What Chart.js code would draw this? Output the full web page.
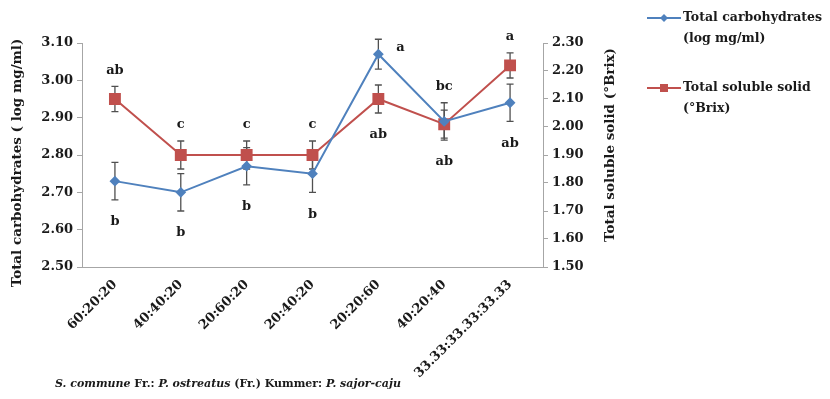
<!DOCTYPE html>
<html>
<head>
<meta charset="utf-8">
<script src="https://cdn.jsdelivr.net/npm/chart.js@4.4.0/dist/chart.umd.min.js"></script>
<style>
  html, body { margin: 0; padding: 0; background: #fff; }
  #wrap { position: relative; width: 830px; height: 399px; }
  #caption { position: absolute; left: 55px; top: 377px; font: bold 11px 'DejaVu Serif', serif; color: #1a1a1a; white-space: nowrap; }
  #caption i { font-style: italic; }
</style>
</head>
<body>
<div id="wrap">
  <canvas id="chart" width="830" height="399"></canvas>
  <div id="caption"><i>S. commune</i> Fr.: <i>P. ostreatus</i> (Fr.) Kummer: <i>P. sajor-caju</i></div>
</div>
<script>
// data
const categories = ['60:20:20', '40:40:20', '20:60:20', '20:40:20', '20:20:60', '40:20:40', '33.33:33.33:33.33'];
const carbValues = [2.73, 2.70, 2.77, 2.75, 3.07, 2.89, 2.94];
const carbErrors = [0.05, 0.05, 0.05, 0.05, 0.04, 0.05, 0.05];
const tssValues = [2.10, 1.90, 1.90, 1.90, 2.10, 2.01, 2.22];
const tssErrors = [0.045, 0.05, 0.05, 0.05, 0.05, 0.05, 0.045];
const upperLetters = ['ab', 'c', 'c', 'c', 'a', 'bc', 'a'];
const lowerLetters = ['b', 'b', 'b', 'b', 'ab', 'ab', 'ab'];
const leftTicks = [2.50, 2.60, 2.70, 2.80, 2.90, 3.00, 3.10];
const rightTicks = [1.50, 1.60, 1.70, 1.80, 1.90, 2.00, 2.10, 2.20, 2.30];

const BLUE = '#4F81BD';
const RED = '#C0504D';
const TEXT = '#1a1a1a';
const FONT = "'DejaVu Serif', serif";

// error bars, drawn under the markers
const errorBars = {
  id: 'errorBars',
  beforeDatasetsDraw(chart) {
    const ctx = chart.ctx;
    chart.data.datasets.forEach((ds, di) => {
      const meta = chart.getDatasetMeta(di);
      const yScale = chart.scales[ds.yAxisID];
      ctx.save();
      ctx.strokeStyle = '#505050';
      ctx.lineWidth = 1.3;
      meta.data.forEach((pt, i) => {
        const top = yScale.getPixelForValue(ds.data[i] + ds.errors[i]);
        const bot = yScale.getPixelForValue(ds.data[i] - ds.errors[i]);
        ctx.beginPath();
        ctx.moveTo(pt.x, top); ctx.lineTo(pt.x, bot);
        ctx.moveTo(pt.x - 3.5, top); ctx.lineTo(pt.x + 3.5, top);
        ctx.moveTo(pt.x - 3.5, bot); ctx.lineTo(pt.x + 3.5, bot);
        ctx.stroke();
      });
      ctx.restore();
    });
  }
};

// significance letters, above highest bar end / below lowest bar end;
// a letter that would sit far above the plot goes beside the bar instead
const letters = {
  id: 'letters',
  afterDraw(chart) {
    const ctx = chart.ctx;
    const area = chart.chartArea;
    const x = chart.scales.x, y = chart.scales.y, y1 = chart.scales.y1;
    ctx.save();
    ctx.font = 'bold 13px ' + FONT;
    ctx.fillStyle = TEXT;
    ctx.textAlign = 'center';
    ctx.textBaseline = 'middle';
    categories.forEach((c, i) => {
      const px = x.getPixelForValue(i);
      const tops = [y.getPixelForValue(carbValues[i] + carbErrors[i]), y1.getPixelForValue(tssValues[i] + tssErrors[i])];
      const bots = [y.getPixelForValue(carbValues[i] - carbErrors[i]), y1.getPixelForValue(tssValues[i] - tssErrors[i])];
      const top = Math.min(...tops);
      let ux = px, uy = top - 16;
      if (uy < area.top - 12) { ux = px + 22; uy = top + 8; }
      ctx.fillText(upperLetters[i], ux, uy);
      ctx.fillText(lowerLetters[i], px, Math.max(...bots) + 22);
    });
    ctx.restore();
  }
};

// axis titles (both read bottom-to-top) and the legend on the right
const extras = {
  id: 'extras',
  afterDraw(chart) {
    const ctx = chart.ctx;
    ctx.save();
    ctx.fillStyle = TEXT;
    ctx.font = 'bold 13.5px ' + FONT;
    ctx.textAlign = 'center';
    ctx.textBaseline = 'middle';
    [['Total carbohydrates ( log mg/ml)', 17, 163], ['Total soluble solid (°Brix)', 610, 145]].forEach(([t, tx, ty]) => {
      ctx.save();
      ctx.translate(tx, ty);
      ctx.rotate(-Math.PI / 2);
      ctx.fillText(t, 0, 0);
      ctx.restore();
    });

    const items = [
      { color: BLUE, style: 'diamond', lines: ['Total carbohydrates', '(log mg/ml)'], y: 18 },
      { color: RED, style: 'square', lines: ['Total soluble solid', '(°Brix)'], y: 88 }
    ];
    ctx.textAlign = 'left';
    ctx.font = 'bold 12.5px ' + FONT;
    items.forEach(it => {
      ctx.strokeStyle = it.color;
      ctx.lineWidth = 2;
      ctx.beginPath(); ctx.moveTo(647, it.y); ctx.lineTo(681, it.y); ctx.stroke();
      ctx.fillStyle = it.color;
      ctx.beginPath();
      if (it.style === 'diamond') {
        ctx.moveTo(664, it.y - 4); ctx.lineTo(668, it.y); ctx.lineTo(664, it.y + 4); ctx.lineTo(660, it.y);
      } else {
        ctx.rect(660, it.y - 4, 8, 8);
      }
      ctx.fill();
      ctx.fillStyle = TEXT;
      it.lines.forEach((l, k) => ctx.fillText(l, 683, it.y + k * 21));
    });
    ctx.restore();
  }
};

const tickFont = { family: FONT, size: 13, weight: 'bold' };
const axisGray = '#a6a6a6';

new Chart(document.getElementById('chart'), {
  type: 'line',
  data: {
    labels: categories,
    datasets: [
      {
        label: 'Total carbohydrates (log mg/ml)',
        data: carbValues,
        errors: carbErrors,
        yAxisID: 'y',
        borderColor: BLUE,
        backgroundColor: BLUE,
        borderWidth: 2,
        pointStyle: 'rectRot',
        pointRadius: 4,
        pointHoverRadius: 4,
        clip: false
      },
      {
        label: 'Total soluble solid (°Brix)',
        data: tssValues,
        errors: tssErrors,
        yAxisID: 'y1',
        borderColor: RED,
        backgroundColor: RED,
        borderWidth: 2,
        pointStyle: 'rect',
        pointRadius: 7,
        pointHoverRadius: 7,
        clip: false
      }
    ]
  },
  options: {
    responsive: false,
    animation: false,
    layout: { padding: { left: 4, top: 43, right: 207, bottom: 0 } },
    plugins: { legend: { display: false }, tooltip: { enabled: false } },
    scales: {
      x: {
        offset: true,
        grid: { display: false },
        border: { display: true, color: axisGray },
        ticks: { color: TEXT, font: tickFont, minRotation: 45, maxRotation: 45, autoSkip: false, padding: 2 },
        afterFit: s => { s.height = 132; }
      },
      y: {
        position: 'left',
        min: 2.5, max: 3.1,
        grid: { drawOnChartArea: false, tickLength: 5, color: axisGray },
        border: { color: axisGray },
        ticks: { color: TEXT, font: tickFont, padding: 4, callback: v => v.toFixed(2) },
        afterBuildTicks: s => { s.ticks = leftTicks.map(v => ({ value: v })); },
        afterFit: s => { s.width = 78; }
      },
      y1: {
        position: 'right',
        min: 1.5, max: 2.3,
        grid: { drawOnChartArea: false, tickLength: 5, color: axisGray },
        border: { color: axisGray },
        ticks: { color: TEXT, font: tickFont, padding: 4, callback: v => v.toFixed(2) },
        afterBuildTicks: s => { s.ticks = rightTicks.map(v => ({ value: v })); },
        afterFit: s => { s.width = 80; }
      }
    }
  },
  plugins: [errorBars, letters, extras]
});
</script>
</body>
</html>
